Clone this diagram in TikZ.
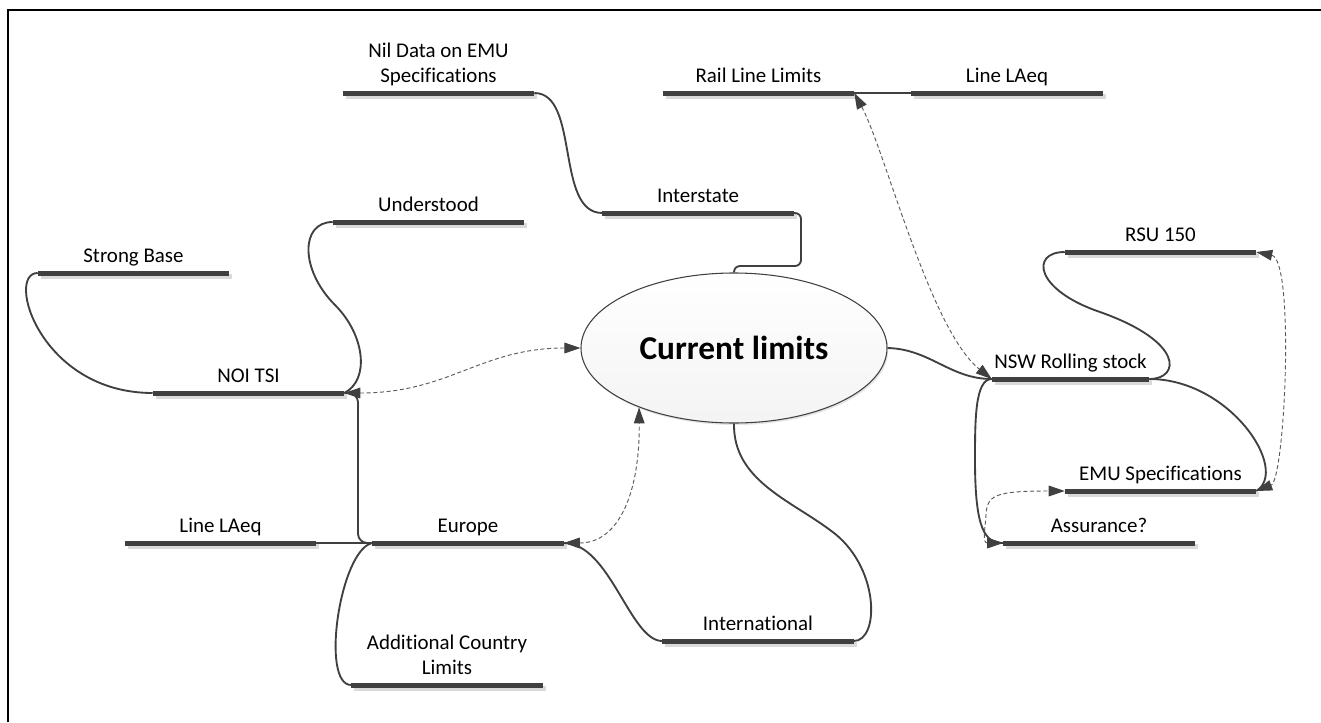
\documentclass[tikz,border=0pt]{standalone}
\usepackage{fontspec}
\setmainfont[Ligatures=NoCommon]{Carlito}
\usetikzlibrary{shapes.geometric,arrows.meta,shadows}
\definecolor{barc}{HTML}{404040}
\definecolor{barshc}{HTML}{DADADA}
\definecolor{dashc}{HTML}{5A5A5A}
\begin{document}
\begin{tikzpicture}[x=0.75pt,y=-0.75pt,
  topic/.style={anchor=south, minimum width=143.25pt, inner xsep=0pt, inner ysep=4pt,
    text depth=3.5pt, font=\fontsize{15.7}{18.7}\selectfont, align=center, text=black},
  barline/.style={line width=3.75pt, draw=barc},
  barshadow/.style={line width=3.75pt, draw=barshc},
  conn/.style={line width=1.4pt, draw=barc},
  thinlink/.style={line width=0.9pt, draw=barc},
  rel/.style={line width=0.7pt, draw=dashc, dash pattern=on 3pt off 2pt,
    {Triangle[length=12pt,width=8pt,color=barc]}-{Triangle[length=12pt,width=8pt,color=barc]}}
]
\useasboundingbox (0,0) rectangle (1321,722);
\draw[line width=1.5pt] (8,722) -- (8,10) -- (1321,10);

% topics
\node[topic] (nil) at (438.5,93) {Nil Data on EMU\\Specifications};
\node[topic] (rail) at (758.5,93) {Rail Line Limits};
\node[topic] (laeqT) at (1007,93) {Line LAeq};
\node[topic] (inter) at (698,213) {Interstate};
\node[topic] (under) at (428.5,222) {Understood};
\node[topic] (strong) at (133.5,273) {Strong Base};
\node[topic] (noi) at (248.5,393) {NOI TSI};
\node[topic, minimum width=117.75pt] (nsw) at (1070.5,379) {NSW Rolling stock};
\node[topic] (rsu) at (1160.5,252) {RSU 150};
\node[topic] (emu) at (1160.5,491) {EMU Specifications};
\node[topic] (ass) at (1099,543) {Assurance?};
\node[topic] (laeqB) at (220.5,543) {Line LAeq};
\node[topic] (europe) at (468,543) {Europe};
\node[topic] (addl) at (447,685) {Additional Country\\Limits};
\node[topic] (intl) at (758,641) {International};

\node[ellipse, draw=barc, line width=0.8pt, top color=white, bottom color=gray!9,
  minimum width=229.5pt, minimum height=112.5pt, inner sep=0pt,
  font=\bfseries\fontsize{25}{30}\selectfont,
  drop shadow={shadow xshift=1pt, shadow yshift=-1.5pt, fill=gray!40, opacity=0.5}]
  (cur) at (734,348) {Current limits};

% bars
\foreach \n in {nil,rail,laeqT,inter,under,strong,noi,nsw,rsu,emu,ass,laeqB,europe,addl,intl}{
  \draw[barshadow] ([shift={(3,3)}]\n.south west) -- ([shift={(3,3)}]\n.south east);
  \draw[barline] (\n.south west) -- (\n.south east);
}

% connectors
\draw[conn] (nil.south east) .. controls (580,93) and (555,213) .. (inter.south west);
\draw[conn, rounded corners=4.5pt] (inter.south east) -| (801,266) -| (cur.north);
\draw[conn] (cur.east) .. controls (930,349) and (950,379) .. (nsw.south west);
\draw[rel] (rail.south east) .. controls (885,150) and (930,330) .. (nsw.south west);
\draw[thinlink] (laeqT.south west) -- (rail.south east);
\draw[conn] (strong.south west) .. controls (5,273) and (40,393) .. (noi.south west);
\draw[conn] (under.south west) .. controls (300,222) and (300,270) .. (335,305)
  .. controls (365,335) and (370,380) .. (noi.south east);
\draw[rel] (noi.south east) .. controls (450,393) and (480,348) .. (cur.west);
\draw[conn, rounded corners=7pt] (noi.south east) -| (358,543) -- (europe.south west);
\draw[thinlink] (laeqB.south east) -- (europe.south west);
\draw[conn] (europe.south west) .. controls (340,550) and (320,685) .. (addl.south west);
\draw[conn] (cur.south) .. controls (733,480) and (790,500) .. (830,530)
  .. controls (880,565) and (880,641) .. (intl.south east);
\draw[conn] (intl.south west) .. controls (630,641) and (610,543) .. (europe.south east);
\draw[rel] (europe.south east) .. controls (620,543) and (640,490) .. (cur.212);
\draw[conn] (rsu.south west) .. controls (1030,252) and (1035,290) .. (1100,312)
  .. controls (1185,342) and (1180,379) .. (nsw.south east);
\draw[rel] (rsu.south east) .. controls (1295,260) and (1285,480) .. (emu.south east);
\draw[conn] (nsw.south east) .. controls (1230,379) and (1290,470) .. (emu.south east);
\draw[conn] (nsw.south west) .. controls (975,379) and (975,420) .. (975,460)
  .. controls (975,530) and (985,543) .. (ass.south west);
\draw[rel] (ass.south west) .. controls (982,543) and (985,530) .. (986,515)
  .. controls (987,495) and (995,491) .. (emu.south west);
\end{tikzpicture}
\end{document}
